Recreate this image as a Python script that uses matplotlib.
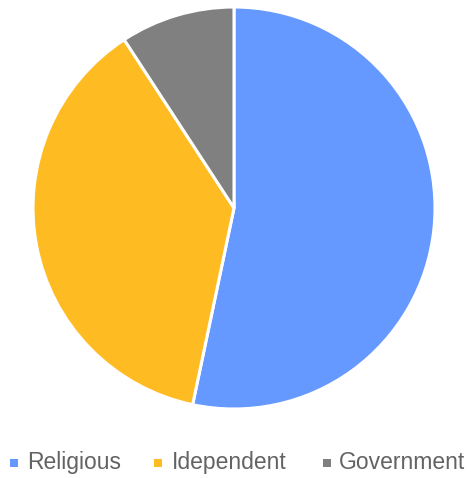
import matplotlib
matplotlib.use("Agg")
import matplotlib.pyplot as plt
from matplotlib.patches import Rectangle

categories = ["Religious", "Idependent", "Government"]
values = [53.3, 37.5, 9.2]
colors = ["#6699ff", "#ffbb22", "#808080"]

W, H = 471, 478
fig = plt.figure(figsize=(W / 100, H / 100), dpi=100)

# pie area: center (234, 208) px from top-left, radius 201 px
cx, cy, r = 234, 208, 201
ax = fig.add_axes([(cx - r) / W, (H - cy - r) / H, 2 * r / W, 2 * r / H])
ax.pie(values, colors=colors, startangle=90, counterclock=False,
       wedgeprops=dict(edgecolor="white", linewidth=2.2), radius=1.0)
ax.set_xlim(-1, 1)
ax.set_ylim(-1, 1)
ax.set_aspect("equal")
ax.axis("off")

# legend row
square_x = [10, 154, 322.7]
text_x = [27.3, 171.7, 339.3]
for lab, col, sx, tx in zip(categories, colors, square_x, text_x):
    fig.patches.append(Rectangle((sx / W, 1 - 467 / H), 8.3 / W, 8.3 / H,
                                 transform=fig.transFigure, facecolor=col,
                                 edgecolor="none"))
    fig.text(tx / W, 1 - 469.3 / H, lab, fontsize=16.5, color="#636363",
             family="Liberation Sans", va="baseline", ha="left")

fig.savefig("out.png", dpi=100)
